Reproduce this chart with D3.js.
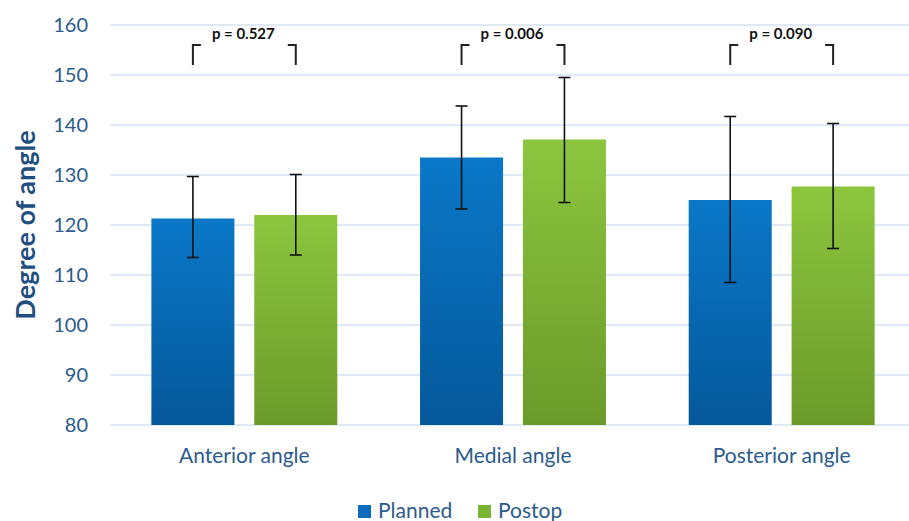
<!DOCTYPE html>
<html>
<head>
<meta charset="utf-8">
<script src="https://cdn.jsdelivr.net/npm/d3@7"></script>
<style>
  html, body { margin: 0; padding: 0; background: #fff; }
  svg { display: block; font-family: Lato, "Open Sans", sans-serif; }
</style>
</head>
<body>
<div id="chart"></div>
<script>
// data
const categories = ['Anterior angle', 'Medial angle', 'Posterior angle'];
const seriesNames = ['Planned', 'Postop'];
const planned = [121.3, 133.5, 125.0];
const postop = [122.0, 137.1, 127.7];
const plannedErrLow = [113.5, 123.2, 108.5];
const plannedErrHigh = [129.7, 143.8, 141.7];
const postopErrLow = [114.0, 124.5, 115.3];
const postopErrHigh = [130.1, 149.5, 140.3];
const pValues = ['p = 0.527', 'p = 0.006', 'p = 0.090'];
const yTicks = [80, 90, 100, 110, 120, 130, 140, 150, 160];

const width = 909;
const height = 521;
const margin = { top: 25, right: -7, bottom: 96, left: 110 };

const svg = d3.select('#chart')
  .append('svg')
  .attr('width', width)
  .attr('height', height);

const defs = svg.append('defs');
const gradients = [
  { id: 'grad-planned', top: '#0a78c8', bottom: '#05589a' },
  { id: 'grad-postop', top: '#8cc63e', bottom: '#6b9a2a' }
];
gradients.forEach(g => {
  const lg = defs.append('linearGradient')
    .attr('id', g.id)
    .attr('x1', 0).attr('y1', 0).attr('x2', 0).attr('y2', 1);
  lg.append('stop').attr('offset', '0%').attr('stop-color', g.top);
  lg.append('stop').attr('offset', '100%').attr('stop-color', g.bottom);
});

const x = d3.scaleBand()
  .domain(categories)
  .range([margin.left, width - margin.right])
  .paddingInner(0)
  .paddingOuter(0);

const y = d3.scaleLinear()
  .domain([80, 160])
  .range([height - margin.bottom, margin.top]);

// bar geometry inside each category band (Excel-like gap width)
const band = x.bandwidth();
const barW = band * 0.309;
const barGap = band * 0.074;
const barX = (cat, s) => x(cat) + (band - 2 * barW - barGap) / 2 + s * (barW + barGap);

// gridlines
svg.append('g')
  .selectAll('line')
  .data(yTicks)
  .enter()
  .append('line')
  .attr('x1', margin.left)
  .attr('x2', width)
  .attr('y1', d => y(d))
  .attr('y2', d => y(d))
  .attr('stroke', '#d4e3f2')
  .attr('stroke-width', 1.5);

// y axis labels
const yAxis = svg.append('g')
  .attr('transform', 'translate(' + (margin.left - 22) + ',0)')
  .call(d3.axisLeft(y).tickValues(yTicks).tickSize(0).tickPadding(0));
yAxis.select('.domain').remove();
yAxis.selectAll('text')
  .attr('fill', '#2c5b8c')
  .style('font-size', '20px')
  .style('font-family', 'Lato, "Open Sans", sans-serif');

// x axis labels
const xAxis = svg.append('g')
  .attr('transform', 'translate(0,' + (height - margin.bottom) + ')')
  .call(d3.axisBottom(x).tickSize(0).tickPadding(23));
xAxis.select('.domain').remove();
xAxis.selectAll('text')
  .attr('fill', '#2c5b8c')
  .style('font-size', '21px')
  .style('font-family', 'Lato, "Open Sans", sans-serif');

// y title
svg.append('text')
  .attr('transform', 'translate(35,' + 225 + ') rotate(-90)')
  .attr('text-anchor', 'middle')
  .attr('fill', '#1f4e80')
  .style('font-size', '27px')
  .style('font-weight', 'bold')
  .text('Degree of angle');

const series = [
  { name: seriesNames[0], values: planned, lo: plannedErrLow, hi: plannedErrHigh, fill: 'url(#grad-planned)' },
  { name: seriesNames[1], values: postop, lo: postopErrLow, hi: postopErrHigh, fill: 'url(#grad-postop)' }
];

// bars
series.forEach((s, si) => {
  svg.append('g')
    .selectAll('rect')
    .data(categories)
    .enter()
    .append('rect')
    .attr('x', c => barX(c, si))
    .attr('y', (c, i) => y(s.values[i]))
    .attr('width', barW)
    .attr('height', (c, i) => y(80) - y(s.values[i]))
    .attr('fill', s.fill);
});

// error bars
series.forEach((s, si) => {
  const g = svg.append('g').attr('stroke', '#111').attr('stroke-width', 1.6);
  categories.forEach((c, i) => {
    const cx = barX(c, si) + barW / 2;
    g.append('line')
      .attr('x1', cx).attr('x2', cx)
      .attr('y1', y(s.hi[i])).attr('y2', y(s.lo[i]));
    [s.hi[i], s.lo[i]].forEach(v => {
      g.append('line')
        .attr('x1', cx - 6).attr('x2', cx + 6)
        .attr('y1', y(v)).attr('y2', y(v));
    });
  });
});

// p-value brackets
const brackets = svg.append('g');
categories.forEach((c, i) => {
  const xl = barX(c, 0) + barW / 2;
  const xr = barX(c, 1) + barW / 2;
  const top = y(156);
  const bot = y(152);
  brackets.append('path')
    .attr('d', 'M' + xl + ',' + bot + 'V' + top + 'H' + (xl + 8))
    .attr('fill', 'none').attr('stroke', '#222').attr('stroke-width', 2);
  brackets.append('path')
    .attr('d', 'M' + xr + ',' + bot + 'V' + top + 'H' + (xr - 8))
    .attr('fill', 'none').attr('stroke', '#222').attr('stroke-width', 2);
  brackets.append('text')
    .attr('x', (xl + xr) / 2 - 1)
    .attr('y', y(157.2))
    .attr('text-anchor', 'middle')
    .attr('fill', '#111')
    .style('font-size', '15px')
    .style('font-weight', 'bold')
    .text(pValues[i]);
});

// legend
const legendColors = ['#0a6cbd', '#7ab434'];
const legend = svg.append('g');
const legendX = [358, 478];
seriesNames.forEach((n, i) => {
  legend.append('rect')
    .attr('x', legendX[i]).attr('y', 505)
    .attr('width', 13).attr('height', 13)
    .attr('fill', legendColors[i]);
  legend.append('text')
    .attr('x', legendX[i] + 20).attr('y', 518)
    .attr('fill', '#2c5b8c')
    .style('font-size', '21px')
    .text(n);
});
</script>
</body>
</html>
